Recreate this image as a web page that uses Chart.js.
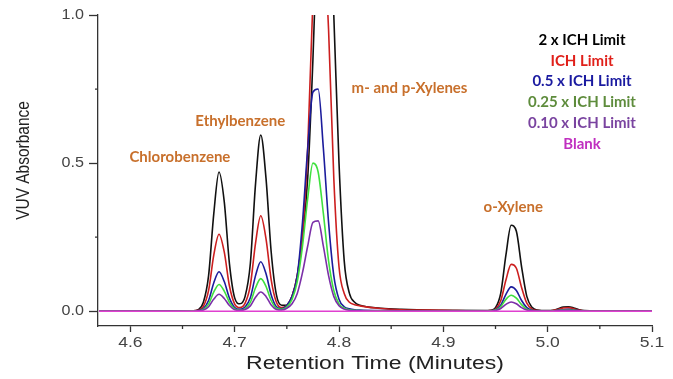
<!DOCTYPE html>
<html>
<head>
<meta charset="utf-8">
<script src="https://cdn.jsdelivr.net/npm/chart.js@4.4.1/dist/chart.umd.min.js"></script>
<style>
  html, body { margin: 0; padding: 0; background: #fff; }
  #wrap { width: 673px; height: 379px; position: relative; }
</style>
</head>
<body>
<div id="wrap"><canvas id="chart" width="673" height="379"></canvas></div>
<script>
// retention times (minutes), shared by every trace
const times = [
  4.57, 4.60, 4.64, 4.66,
  4.665, 4.67, 4.675, 4.68, 4.685, 4.69, 4.695, 4.70, 4.705,
  4.71, 4.715, 4.72, 4.725, 4.73, 4.735, 4.74, 4.745,
  4.75, 4.755, 4.76, 4.765, 4.77, 4.775, 4.78, 4.785, 4.79, 4.795, 4.80, 4.805, 4.81, 4.815,
  4.82, 4.84, 4.86, 4.90, 4.94,
  4.945, 4.95, 4.955, 4.96, 4.965, 4.97, 4.975, 4.98, 4.985, 4.99,
  5.00,
  5.005, 5.01, 5.015, 5.02, 5.025, 5.03, 5.035,
  5.05, 5.10
];

const ich2x = [
  0, 0, 0, 0.001,
  0.005, 0.03, 0.12, 0.33, 0.47, 0.37, 0.16, 0.045, 0.025,
  0.05, 0.16, 0.43, 0.595, 0.45, 0.2, 0.055, 0.02,
  0.02, 0.05, 0.12, 0.25, 0.45, 0.85, 1.35, 1.6, 1.45, 1.0, 0.5, 0.17, 0.06, 0.03,
  0.02, 0.01, 0.006, 0.003, 0.002,
  0.003, 0.012, 0.06, 0.19, 0.29, 0.27, 0.15, 0.05, 0.013, 0.004,
  0.002,
  0.003, 0.008, 0.014, 0.015, 0.011, 0.005, 0.002,
  0.001, 0
];

const ich1x = [
  0, 0, 0, 0.001,
  0.003, 0.016, 0.07, 0.19, 0.26, 0.2, 0.085, 0.024, 0.012,
  0.027, 0.087, 0.23, 0.322, 0.245, 0.106, 0.03, 0.012,
  0.02, 0.05, 0.12, 0.26, 0.55, 1.05, 1.3, 1.25, 0.95, 0.45, 0.15, 0.06, 0.03, 0.022,
  0.018, 0.009, 0.005, 0.003, 0.001,
  0.002, 0.007, 0.035, 0.105, 0.158, 0.145, 0.08, 0.027, 0.007, 0.002,
  0.001,
  0.002, 0.006, 0.011, 0.012, 0.008, 0.004, 0.001,
  0.001, 0
];

const ich05x = [
  0, 0, 0, 0.001,
  0.002, 0.009, 0.036, 0.096, 0.133, 0.1, 0.044, 0.012, 0.006,
  0.014, 0.045, 0.12, 0.167, 0.127, 0.055, 0.015, 0.008,
  0.02, 0.05, 0.12, 0.3, 0.55, 0.74, 0.75, 0.55, 0.3, 0.12, 0.04, 0.015, 0.008, 0.005,
  0.004, 0.002, 0.001, 0, 0,
  0.001, 0.005, 0.02, 0.057, 0.082, 0.07, 0.036, 0.012, 0.003, 0.001,
  0,
  0.001, 0.003, 0.005, 0.006, 0.004, 0.002, 0,
  0, 0
];

const ich025x = [
  0, 0, 0, 0.001,
  0.001, 0.006, 0.024, 0.065, 0.09, 0.068, 0.03, 0.008, 0.004,
  0.009, 0.03, 0.079, 0.11, 0.084, 0.036, 0.01, 0.006,
  0.015, 0.04, 0.1, 0.22, 0.38, 0.5, 0.47, 0.33, 0.17, 0.07, 0.025, 0.01, 0.005, 0.003,
  0.002, 0.001, 0, 0, 0,
  0.001, 0.004, 0.015, 0.04, 0.054, 0.044, 0.022, 0.007, 0.002, 0,
  0,
  0.001, 0.002, 0.004, 0.004, 0.003, 0.001, 0,
  0, 0
];

const ich010x = [
  0, 0, 0, 0,
  0.001, 0.004, 0.015, 0.041, 0.057, 0.043, 0.019, 0.005, 0.003,
  0.006, 0.018, 0.047, 0.065, 0.05, 0.021, 0.006, 0.004,
  0.01, 0.025, 0.06, 0.13, 0.22, 0.3, 0.305, 0.22, 0.12, 0.05, 0.018, 0.007, 0.003, 0.002,
  0.001, 0, 0, 0, 0,
  0, 0.002, 0.009, 0.023, 0.031, 0.025, 0.012, 0.004, 0.001, 0,
  0,
  0, 0.002, 0.003, 0.003, 0.002, 0.001, 0,
  0, 0
];

const blank = [
  0, 0, 0, 0,
  0, 0, 0, 0, 0, 0, 0, 0, 0,
  0, 0, 0, 0, 0, 0, 0, 0,
  0, 0, 0, 0, 0, 0, 0, 0, 0, 0, 0, 0, 0, 0,
  0, 0, 0, 0, 0,
  0, 0, 0, 0, 0, 0, 0, 0, 0, 0,
  0,
  0, 0, 0, 0, 0, 0, 0,
  0, 0
];

const seriesNames = ['Blank', '0.10 x ICH Limit', '0.25 x ICH Limit', '0.5 x ICH Limit', 'ICH Limit', '2 x ICH Limit'];
const xMajor = [4.6, 4.7, 4.8, 4.9, 5.0, 5.1];
const xMinor = [4.65, 4.75, 4.85, 4.95, 5.05];
const yMajor = [0, 0.5, 1.0];
const yMinor = [0.25, 0.75];

// peak names: [label, time, absorbance]
const peakNames = [
  ['Chlorobenzene', 4.6475, 0.52],
  ['Ethylbenzene', 4.7054, 0.64],
  ['m- and p-Xylenes', 4.8676, 0.753],
  ['o-Xylene', 4.967, 0.352]
];

const lineColors = ['#e040d0', '#7b2fa8', '#3fe03f', '#1c1c9c', '#cc1f1f', '#111111'];
const textColors = ['#c030c0', '#7a44a0', '#5e8c3c', '#1a1aa0', '#e0201a', '#000000'];

const axisFont = '"Liberation Sans", Arial, sans-serif';

function makeSet(name, values, color) {
    return {
        label: name,
        data: times.map((t, i) => ({ x: t, y: values[i] })),
        borderColor: color,
        borderWidth: 1.6,
        pointRadius: 0,
        fill: false,
        cubicInterpolationMode: 'monotone'
    };
}

// the source picture is stretched sideways, so its axis text is too
function stretchedText(ctx, text, x, y, sx, font, align, rotate) {
    ctx.save();
    ctx.translate(x, y);
    if (rotate) ctx.rotate(-Math.PI / 2);
    ctx.scale(sx, 1);
    ctx.font = font;
    ctx.textAlign = align;
    ctx.textBaseline = 'middle';
    ctx.fillText(text, 0, 0);
    ctx.restore();
}

const labelsPlugin = {
    id: 'labels',
    afterDraw(chart) {
        const ctx = chart.ctx;
        const xs = chart.scales.x, ys = chart.scales.y;
        const area = chart.chartArea;

        // short minor ticks
        ctx.save();
        ctx.strokeStyle = '#333';
        ctx.lineWidth = 1.3;
        ctx.beginPath();
        xMinor.forEach(v => {
            const px = xs.getPixelForValue(v);
            ctx.moveTo(px, area.bottom);
            ctx.lineTo(px, area.bottom + 3);
        });
        yMinor.forEach(v => {
            const py = ys.getPixelForValue(v);
            ctx.moveTo(area.left, py);
            ctx.lineTo(area.left - 3, py);
        });
        ctx.stroke();
        ctx.restore();

        // tick labels and axis titles
        ctx.save();
        ctx.fillStyle = '#444';
        xMajor.forEach(v => {
            stretchedText(ctx, v.toFixed(1), xs.getPixelForValue(v), area.bottom + 17, 1.25, '14px ' + axisFont, 'center');
        });
        yMajor.forEach(v => {
            stretchedText(ctx, v.toFixed(1), area.left - 14, ys.getPixelForValue(v), 1.15, '14px ' + axisFont, 'right');
        });
        ctx.fillStyle = '#222';
        stretchedText(ctx, 'Retention Time (Minutes)', (area.left + area.right) / 2, area.bottom + 38, 1.28, '18px ' + axisFont, 'center');
        stretchedText(ctx, 'VUV Absorbance', 24, (area.top + area.bottom) / 2 - 10, 0.86, '18px ' + axisFont, 'center', true);
        ctx.restore();

        // peak names
        ctx.save();
        ctx.textAlign = 'center';
        ctx.textBaseline = 'middle';
        ctx.font = 'bold 15px Lato, "Open Sans", sans-serif';
        ctx.fillStyle = '#c8702c';
        peakNames.forEach(p => {
            ctx.fillText(p[0], xs.getPixelForValue(p[1]), ys.getPixelForValue(p[2]));
        });
        // legend: text only, top line is the strongest trace
        for (let k = 0; k < seriesNames.length; k++) {
            const i = seriesNames.length - 1 - k;
            ctx.fillStyle = textColors[i];
            ctx.fillText(seriesNames[i], area.right - 70, area.top + 25 + k * 20.8);
        }
        ctx.restore();
    }
};

window.onload = () => {
    const ctx = document.getElementById('chart').getContext('2d');
    new Chart(ctx, {
        type: 'line',
        data: {
            datasets: [
                makeSet(seriesNames[0], blank, lineColors[0]),
                makeSet(seriesNames[1], ich010x, lineColors[1]),
                makeSet(seriesNames[2], ich025x, lineColors[2]),
                makeSet(seriesNames[3], ich05x, lineColors[3]),
                makeSet(seriesNames[4], ich1x, lineColors[4]),
                makeSet(seriesNames[5], ich2x, lineColors[5])
            ]
        },
        options: {
            responsive: false,
            animation: false,
            layout: { padding: { left: 0, top: 15, right: 21, bottom: 0 } },
            plugins: {
                legend: { display: false },
                tooltip: { enabled: false }
            },
            scales: {
                x: {
                    type: 'linear',
                    min: 4.569,
                    max: 5.1,
                    afterBuildTicks: s => { s.ticks = xMajor.map(v => ({ value: v })); },
                    afterFit: s => { s.height = 53; },
                    border: { display: true, color: '#333', width: 1.3 },
                    grid: { drawOnChartArea: false, tickLength: 6, tickColor: '#333', tickWidth: 1.3 },
                    ticks: { autoSkip: false, maxRotation: 0, callback: () => '' }
                },
                y: {
                    min: -0.05,
                    max: 1.0,
                    afterBuildTicks: s => { s.ticks = yMajor.map(v => ({ value: v })); },
                    afterFit: s => { s.width = 98; },
                    border: { display: true, color: '#333', width: 1.3 },
                    grid: { drawOnChartArea: false, tickLength: 9, tickColor: '#333', tickWidth: 1.3 },
                    ticks: { callback: () => '' }
                }
            }
        },
        plugins: [labelsPlugin]
    });
};
</script>
</body>
</html>
